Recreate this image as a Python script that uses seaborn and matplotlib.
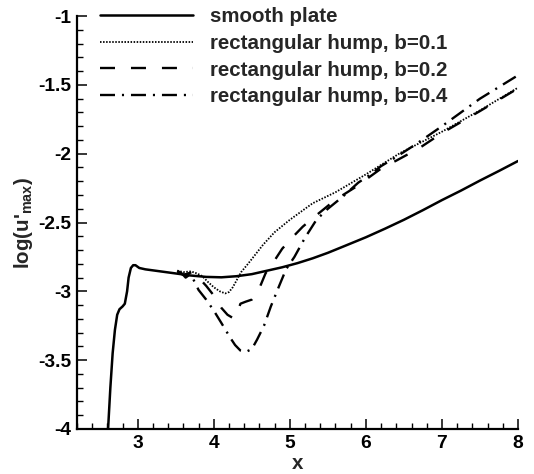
import numpy as np
import pandas as pd
import matplotlib
matplotlib.use("Agg")
import matplotlib.pyplot as plt
from matplotlib.ticker import MultipleLocator, FuncFormatter
import seaborn as sns

# ---------------- data ----------------
smooth_x = [2.61, 2.64, 2.67, 2.70, 2.73, 2.76, 2.80, 2.83, 2.86, 2.88, 2.91, 2.94,
            2.97, 3.02, 3.10, 3.30, 3.50, 3.70, 3.90, 4.10, 4.30, 4.50, 4.70, 4.90,
            5.10, 5.30, 5.50, 5.70, 6.00, 6.25, 6.50, 6.75, 7.00, 7.25, 7.50, 7.75, 8.00]
smooth_y = [-4.00, -3.70, -3.45, -3.28, -3.17, -3.13, -3.11, -3.09, -3.00, -2.90, -2.83, -2.81,
            -2.81, -2.83, -2.84, -2.855, -2.87, -2.885, -2.895, -2.898, -2.89, -2.875, -2.85, -2.825,
            -2.795, -2.76, -2.72, -2.675, -2.607, -2.545, -2.48, -2.41, -2.337, -2.268, -2.195, -2.125, -2.053]

b01_x = [3.52, 3.60, 3.70, 3.78, 3.85, 3.92, 4.00, 4.08, 4.15, 4.20, 4.25, 4.30, 4.36,
         4.45, 4.55, 4.65, 4.80, 5.00, 5.30, 5.60, 6.00, 6.45, 7.00, 7.50, 8.00]
b01_y = [-2.85, -2.86, -2.855, -2.87, -2.89, -2.93, -2.97, -3.00, -3.015, -3.005, -2.97, -2.92, -2.86,
         -2.80, -2.73, -2.66, -2.57, -2.48, -2.36, -2.28, -2.15, -1.995, -1.84, -1.685, -1.52]

b02_x = [3.52, 3.60, 3.66, 3.72, 3.80, 3.90, 4.00, 4.10, 4.18, 4.24, 4.29, 4.35, 4.42,
         4.50, 4.57, 4.62, 4.68, 4.77, 4.90, 5.03, 5.17, 5.32, 5.52, 5.67, 5.87, 6.02,
         6.22, 6.40, 6.70, 7.00, 7.50, 8.00]
b02_y = [-2.86, -2.88, -2.87, -2.86, -2.90, -2.96, -3.03, -3.12, -3.17, -3.19, -3.19, -3.09, -3.075,
         -3.06, -3.01, -2.95, -2.87, -2.80, -2.69, -2.61, -2.53, -2.46, -2.37, -2.31, -2.24, -2.18,
         -2.10, -2.05, -1.96, -1.85, -1.69, -1.525]

b04_x = [3.52, 3.58, 3.63, 3.68, 3.72, 3.80, 3.90, 4.00, 4.10, 4.22, 4.28, 4.35, 4.42,
         4.50, 4.57, 4.66, 4.75, 4.86, 4.95, 5.06, 5.20, 5.35, 5.50, 5.70, 5.90, 6.05,
         6.20, 6.38, 6.66, 7.00, 7.50, 8.00]
b04_y = [-2.85, -2.87, -2.90, -2.88, -2.90, -2.99, -3.06, -3.14, -3.23, -3.34, -3.39, -3.43, -3.44,
         -3.42, -3.35, -3.25, -3.11, -2.96, -2.84, -2.75, -2.61, -2.48, -2.40, -2.31, -2.21, -2.155,
         -2.09, -2.03, -1.93, -1.80, -1.60, -1.43]

labels = ["smooth plate", "rectangular hump, b=0.1",
          "rectangular hump, b=0.2", "rectangular hump, b=0.4"]

# ---------------- style ----------------
sns.set_theme(style="white")
plt.rcParams["font.family"] = ["Liberation Sans", "DejaVu Sans"]
plt.rcParams["font.weight"] = "bold"
plt.rcParams["axes.unicode_minus"] = False
plt.rcParams["lines.scale_dashes"] = False
plt.rcParams["mathtext.fontset"] = "custom"
plt.rcParams["mathtext.rm"] = "Liberation Sans:bold"
plt.rcParams["mathtext.it"] = "Liberation Sans:bold"
plt.rcParams["mathtext.bf"] = "Liberation Sans:bold"

fig = plt.figure(figsize=(5.34, 4.74), dpi=100)
ax = fig.add_axes([0.144, 0.095, 0.970 - 0.144, 0.966 - 0.095])

series = [
    (smooth_x, smooth_y, "-", 1.8),
    (b01_x, b01_y, (0, (1.1, 1.1)), 1.3),
    (b02_x, b02_y, (0, (10.8, 11.5)), 1.7),
    (b04_x, b04_y, (0, (10.8, 5.0, 1.5, 5.0)), 1.7),
]
for (xs, ys, ls, lw), lab in zip(series, labels):
    df = pd.DataFrame({"x": xs, "y": ys})
    sns.lineplot(data=df, x="x", y="y", ax=ax, color="black", linestyle=ls,
                 linewidth=lw, label=lab, sort=False, estimator=None)

ax.set_xlim(2.2, 8.0)
ax.set_ylim(-4.0, -1.0)
ax.xaxis.set_major_locator(MultipleLocator(1))
ax.xaxis.set_minor_locator(MultipleLocator(0.2))
ax.yaxis.set_major_locator(MultipleLocator(0.5))
ax.yaxis.set_minor_locator(MultipleLocator(0.1))
fmt = FuncFormatter(lambda v, p: "%g" % v)
ax.xaxis.set_major_formatter(fmt)
ax.yaxis.set_major_formatter(fmt)

for s in ["top", "right"]:
    ax.spines[s].set_visible(False)
for s in ["left", "bottom"]:
    ax.spines[s].set_linewidth(1.6)
    ax.spines[s].set_color("black")

ax.tick_params(which="major", direction="in", length=7, width=1.1, colors="black",
               labelsize=13.8, pad=4)
ax.tick_params(which="minor", direction="in", length=4.5, width=1.0, colors="black")
ax.tick_params(axis="x", which="both", bottom=True)
ax.tick_params(axis="y", which="both", left=True)
for t in ax.get_xticklabels() + ax.get_yticklabels():
    t.set_fontweight("bold")

ax.set_xlabel("x", fontsize=14.8, fontweight="bold", labelpad=2)
ax.set_ylabel(r"log(u$'_{\mathrm{max}}$)", fontsize=14.8, fontweight="bold", labelpad=2)

leg = ax.legend(loc="upper left", bbox_to_anchor=(100 / 534, 1 - 7 / 474),
                bbox_transform=fig.transFigure, frameon=False, borderpad=0,
                borderaxespad=0, handlelength=4.5, handletextpad=0.85,
                labelspacing=0.38, prop={"family": "Liberation Sans", "weight": "bold", "size": 14.8})

fig.savefig("out.png", dpi=100)
